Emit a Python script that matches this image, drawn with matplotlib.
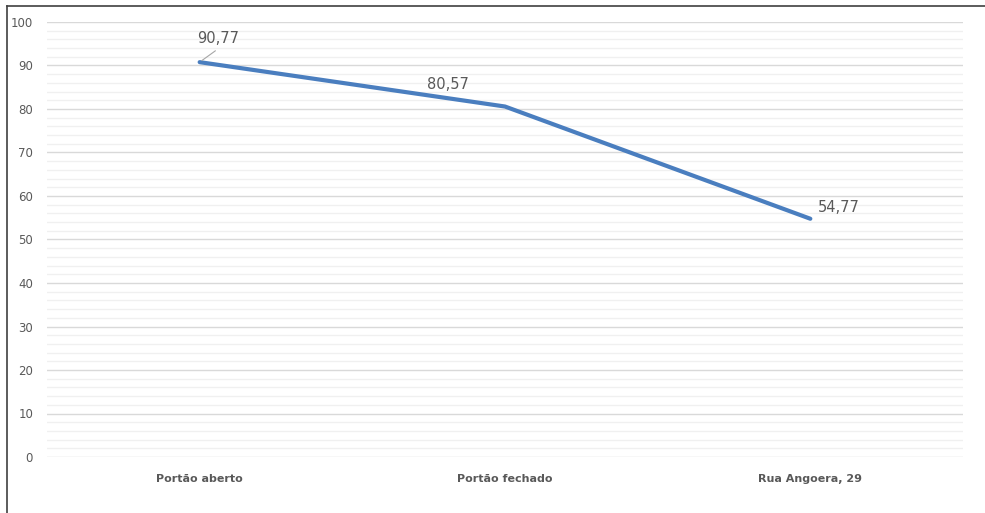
import matplotlib
matplotlib.use("Agg")
import matplotlib.pyplot as plt
from matplotlib.lines import Line2D
from matplotlib.ticker import MultipleLocator

categories = ["Portão aberto", "Portão fechado", "Rua Angoera, 29"]
values = [90.77, 80.57, 54.77]
labels = ["90,77", "80,57", "54,77"]
yticks = [0, 10, 20, 30, 40, 50, 60, 70, 80, 90, 100]

W, H = 985, 513
fig = plt.figure(figsize=(W / 100, H / 100), dpi=100)
ax = fig.add_axes([47 / W, 1 - 457 / H, (963 - 47) / W, (457 - 22) / H])

x = list(range(len(categories)))
ax.plot(x, values, color="#4a7ebf", linewidth=3.0, solid_capstyle="round", zorder=3)

ax.set_xlim(-0.5, len(categories) - 0.5)
ax.set_ylim(0, 100)
ax.set_yticks(yticks)
ax.yaxis.set_minor_locator(MultipleLocator(2))
ax.grid(axis="y", which="major", color="#d9d9d9", linewidth=1.0)
ax.grid(axis="y", which="minor", color="#f0f0f0", linewidth=1.0)
ax.set_axisbelow(True)
for s in ax.spines.values():
    s.set_visible(False)
ax.tick_params(axis="both", which="both", length=0)
ax.tick_params(axis="y", labelsize=8.5, labelcolor="#595959", pad=10)
ax.set_xticks(x)
ax.set_xticklabels(categories, fontsize=8, fontweight="bold", color="#595959")
ax.tick_params(axis="x", pad=12)

# data labels
offsets = [(18, 24), (-57, 22), (28, 11)]
for xi, v, lab, (dx, dy) in zip(x, values, labels, offsets):
    ax.annotate(lab, (xi, v), xytext=(dx, dy), textcoords="offset pixels",
                fontsize=10.5, color="#595959", ha="center", va="center")
# leader line for first label
ax.annotate("", (x[0], values[0]), xytext=(18, 13), textcoords="offset pixels",
            arrowprops=dict(arrowstyle="-", color="#a6a6a6", lw=0.8))

# chart border (left and top visible)
fig.add_artist(Line2D([6.5 / W, 6.5 / W], [0, 1 - 5.5 / H], color="#404040", lw=1.2, transform=fig.transFigure))
fig.add_artist(Line2D([6.5 / W, 1], [1 - 5.5 / H, 1 - 5.5 / H], color="#404040", lw=1.2, transform=fig.transFigure))

fig.savefig("out.png", dpi=100)
